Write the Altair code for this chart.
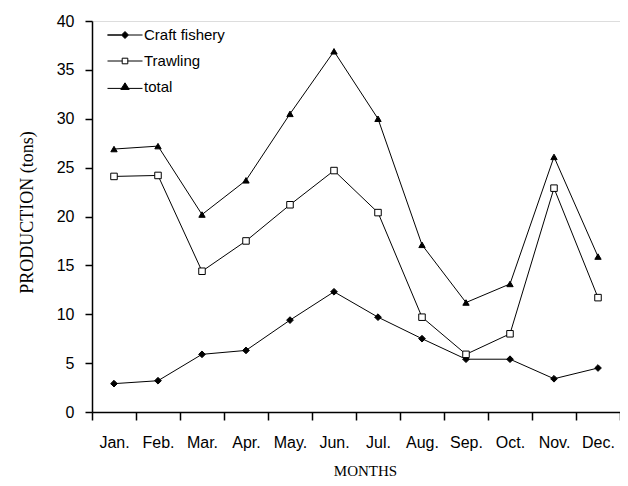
import altair as alt
import pandas as pd

months = ["Jan.", "Feb.", "Mar.", "Apr.", "May.", "Jun.", "Jul.", "Aug.", "Sep.", "Oct.", "Nov.", "Dec."]
craft = [2.9, 3.2, 5.9, 6.3, 9.4, 12.3, 9.7, 7.5, 5.4, 5.4, 3.4, 4.5]
trawling = [24.1, 24.2, 14.4, 17.5, 21.2, 24.7, 20.4, 9.7, 5.9, 8.0, 22.9, 11.7]
total = [26.9, 27.2, 20.2, 23.7, 30.5, 36.9, 30.0, 17.1, 11.2, 13.1, 26.1, 15.9]
series = ["Craft fishery", "Trawling", "total"]

rows = []
for name, vals in zip(series, [craft, trawling, total]):
    for m, v in zip(months, vals):
        rows.append({"month": m, "value": v, "series": name})
df = pd.DataFrame(rows)

x = alt.X("month:N", sort=months, title="MONTHS",
          scale=alt.Scale(type="band", paddingInner=0, paddingOuter=0, domain=months),
          axis=alt.Axis(labelAngle=0, tickBand="extent", tickSize=8, labelPadding=14,
                        labelFont="Liberation Sans", labelFontSize=16, labelColor="black",
                        titleFont="Liberation Serif", titleFontSize=15, titleFontWeight="normal",
                        titleColor="black", titleX=273, titleY=63, titleBaseline="alphabetic",
                        domainColor="black", domainWidth=1.5, tickColor="black", tickWidth=1.5))
y = alt.Y("value:Q", title="PRODUCTION (tons)",
          scale=alt.Scale(domain=[0, 40], nice=False),
          axis=alt.Axis(values=[0, 5, 10, 15, 20, 25, 30, 35, 40], grid=False, tickSize=7,
                        labelPadding=11, labelFont="Liberation Sans", labelFontSize=16,
                        labelColor="black", titleFont="Liberation Serif", titleFontSize=18,
                        titleFontWeight="normal", titleColor="black",
                        titleX=-60, titleY=191, titleBaseline="alphabetic", titleAngle=270,
                        domainColor="black", domainWidth=1.5, tickColor="black", tickWidth=1.5))

lines = alt.Chart(df).mark_line(color="black", strokeWidth=1).encode(
    x=x, y=y, detail="series:N")

points = alt.Chart(df).mark_point(filled=True, stroke="black", strokeWidth=1, opacity=1).encode(
    x=x, y=y,
    shape=alt.Shape("series:N", scale=alt.Scale(domain=series, range=["diamond", "square", "triangle-up"]), legend=None),
    fill=alt.Fill("series:N", scale=alt.Scale(domain=series, range=["black", "white", "black"]), legend=None),
    size=alt.Size("series:N", scale=alt.Scale(domain=series, range=[45, 40, 64]), legend=None),
)

leg_paths = [
    "M-1,0H-0.2L0,-0.2L0.2,0L0,0.2L-0.2,0ZM0.2,0H1",
    "M-1,0H-0.16M-0.16,-0.16H0.16V0.16H-0.16ZM0.16,0H1",
    "M-1,0.08H1M-0.24,0.14L0,-0.24L0.24,0.14Z",
]
leg = dict(title=None, orient="none", legendX=15, legendY=-4, padding=0, rowPadding=-7,
           labelFont="Liberation Sans", labelFontSize=15, labelColor="black", labelOffset=1,
           symbolStrokeColor="black", symbolStrokeWidth=1, symbolSize=1225, symbolOpacity=1)
legend_layer = alt.Chart(df).transform_filter("datum.value < -1000").mark_point(
    filled=False, strokeWidth=1, opacity=1).encode(
    x=x, y=y,
    shape=alt.Shape("series:N", scale=alt.Scale(domain=series, range=leg_paths), legend=alt.Legend(**leg)),
    fill=alt.Fill("series:N", scale=alt.Scale(domain=series, range=["black", "white", "black"]), legend=alt.Legend(**leg)),
    stroke=alt.Stroke("series:N", scale=alt.Scale(domain=series, range=["black", "black", "black"]), legend=alt.Legend(**leg)),
)

chart = alt.layer(lines, points, legend_layer).resolve_scale(
    shape="independent", fill="independent", size="independent", stroke="independent"
).properties(
    width=528, height=391,
    autosize=alt.AutoSizeParams(type="none"),
    padding={"left": 84, "top": 13, "right": 0, "bottom": 66},
).configure_view(stroke="black", strokeWidth=1).configure(background="white")

chart.save("out.html", embed_options={"renderer": "svg", "actions": False})
